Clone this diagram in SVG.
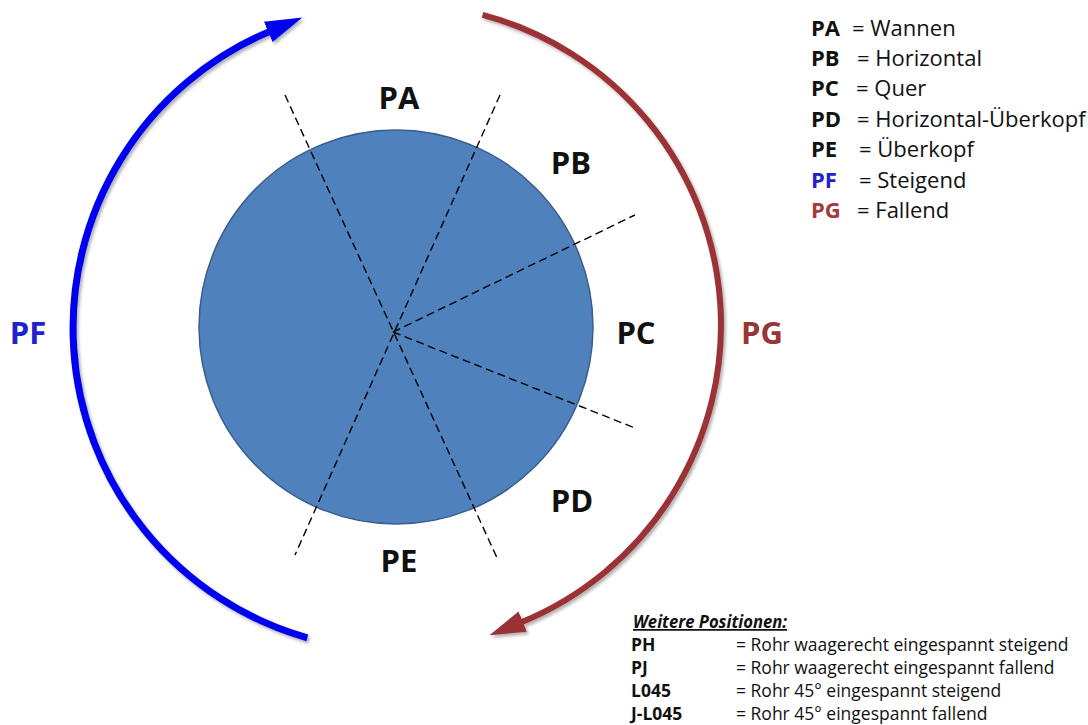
<svg xmlns="http://www.w3.org/2000/svg" width="1088" height="725" viewBox="0 0 1088 725">
  <style>
    .lbl { font-family: "Open Sans", "Liberation Sans", sans-serif; font-weight: bold; font-size: 31px; text-anchor: middle; fill: #111; }
    .dash { stroke: #000; stroke-width: 1.4; stroke-dasharray: 8 4.5; fill: none; }
    .leg { font-family: "Open Sans", "Liberation Sans", sans-serif; font-size: 22px; fill: #111; }
    .legb { font-family: "Open Sans", "Liberation Sans", sans-serif; font-size: 22px; font-weight: bold; fill: #111; }
    .sm { font-family: "Open Sans", "Liberation Sans", sans-serif; font-size: 17.5px; fill: #111; }
    .smb { font-family: "Open Sans", "Liberation Sans", sans-serif; font-size: 17.5px; font-weight: bold; fill: #111; }
  </style>
  <defs>
    <filter id="sh" x="-10%" y="-10%" width="120%" height="120%">
      <feDropShadow dx="2" dy="2.5" stdDeviation="1.5" flood-color="#000" flood-opacity="0.3"/>
    </filter>
    <marker id="headBlue" markerUnits="userSpaceOnUse" viewBox="0 -12 40 24" refX="1" refY="0" markerWidth="40" markerHeight="24" orient="auto">
      <polygon points="0,-11 37,0 0,11" fill="#0000f0"/>
    </marker>
    <marker id="headRed" markerUnits="userSpaceOnUse" viewBox="0 -12 40 24" refX="1" refY="0" markerWidth="40" markerHeight="24" orient="auto">
      <polygon points="0,-11 36,0 0,11" fill="#9b3234"/>
    </marker>
  </defs>
  <rect width="1088" height="725" fill="#fff"/>

  <g id="circle">
    <circle cx="396" cy="327" r="197" fill="#4f81bd" stroke="#3a5e8c" stroke-width="1.5"/>
  </g>

  <g id="connectors">
    <line class="dash" x1="285" y1="95" x2="498" y2="560"/>
    <line class="dash" x1="500" y1="95" x2="295" y2="555"/>
    <line class="dash" x1="393" y1="332" x2="635" y2="215"/>
    <line class="dash" x1="393" y1="332" x2="635" y2="428"/>
    <path id="arcPF" d="M 307.3 637.8 A 322 322 0 0 1 269.2 31.6" fill="none" stroke="#0000f0" stroke-width="7" marker-end="url(#headBlue)" filter="url(#sh)"/>
    <path id="arcPG" d="M 482.5 14.8 A 321 321 0 0 1 521.8 622" fill="none" stroke="#9b3234" stroke-width="6" marker-end="url(#headRed)" filter="url(#sh)"/>
  </g>

  <g id="label-PA"><text class="lbl" x="399" y="109">PA</text></g>
  <g id="label-PB"><text class="lbl" x="571" y="174">PB</text></g>
  <g id="label-PC"><text class="lbl" x="636" y="344">PC</text></g>
  <g id="label-PD"><text class="lbl" x="572" y="512">PD</text></g>
  <g id="label-PE"><text class="lbl" x="399" y="572">PE</text></g>
  <g id="label-PF"><text class="lbl" x="28" y="344" style="fill:#2222cc">PF</text></g>
  <g id="label-PG"><text class="lbl" x="762" y="344" style="fill:#983636">PG</text></g>

  <g id="legend">
    <text class="legb" x="811" y="36">PA</text><text class="leg" x="852" y="36">= Wannen</text>
    <text class="legb" x="811" y="66">PB</text><text class="leg" x="857" y="66">= Horizontal</text>
    <text class="legb" x="811" y="96">PC</text><text class="leg" x="856" y="96">= Quer</text>
    <text class="legb" x="811" y="127">PD</text><text class="leg" x="857" y="127">= Horizontal-Überkopf</text>
    <text class="legb" x="811" y="157">PE</text><text class="leg" x="859" y="157">= Überkopf</text>
    <text class="legb" x="811" y="188" style="fill:#2222cc">PF</text><text class="leg" x="859" y="188">= Steigend</text>
    <text class="legb" x="811" y="218" style="fill:#a8393b">PG</text><text class="leg" x="857" y="218">= Fallend</text>
  </g>

  <g id="legend-more">
    <text class="smb" x="633" y="628" font-style="italic" text-decoration="underline" textLength="154" lengthAdjust="spacingAndGlyphs">Weitere Positionen:</text>
    <text class="smb" x="631" y="651">PH</text><text class="sm" x="736" y="651">= Rohr waagerecht eingespannt steigend</text>
    <text class="smb" x="631" y="674">PJ</text><text class="sm" x="736" y="674">= Rohr waagerecht eingespannt fallend</text>
    <text class="smb" x="631" y="697">L045</text><text class="sm" x="736" y="697">= Rohr 45° eingespannt steigend</text>
    <text class="smb" x="631" y="720">J-L045</text><text class="sm" x="736" y="720">= Rohr 45° eingespannt fallend</text>
  </g>
</svg>
